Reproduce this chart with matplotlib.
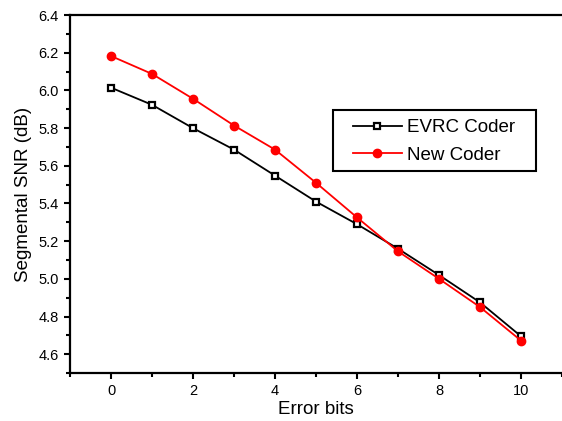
import numpy as np
import matplotlib.pyplot as plt
from matplotlib.ticker import MultipleLocator
from matplotlib.patches import Rectangle

plt.rcParams['font.family'] = ['Liberation Sans', 'DejaVu Sans']

# Data
error_bits = [0, 1, 2, 3, 4, 5, 6, 7, 8, 9, 10]
evrc = [6.015, 5.924, 5.80, 5.686, 5.548, 5.41, 5.29, 5.16, 5.02, 4.875, 4.695]
new_coder = [6.183, 6.088, 5.956, 5.814, 5.686, 5.51, 5.326, 5.146, 5.0, 4.85, 4.672]

fig = plt.figure(figsize=(5.62, 4.21), dpi=100)
ax = fig.add_axes([0.1246, 0.114, 0.8754, 0.85])

ax.plot(error_bits, evrc, color='black', lw=1.3, marker='s', ms=5,
        mfc='white', mec='black', mew=1.6, label='EVRC Coder')
ax.plot(error_bits, new_coder, color='red', lw=1.3, marker='o', ms=6,
        mfc='red', mec='red', label='New Coder')

ax.set_xlim(-1, 11)
ax.set_ylim(4.5, 6.4)
ax.xaxis.set_major_locator(MultipleLocator(2))
ax.xaxis.set_minor_locator(MultipleLocator(1))
ax.yaxis.set_major_locator(MultipleLocator(0.2))
ax.yaxis.set_minor_locator(MultipleLocator(0.1))
ax.yaxis.set_major_formatter(plt.FormatStrFormatter('%.1f'))

ax.tick_params(which='major', direction='out', length=4.5, width=1.5, labelsize=10.5, colors='black')
ax.tick_params(which='minor', direction='out', length=2.8, width=1.5)
ax.tick_params(axis='x', which='both', top=False)
ax.tick_params(axis='y', which='both', right=False)

for side in ['left', 'bottom', 'top']:
    ax.spines[side].set_linewidth(1.6)
ax.spines['right'].set_visible(False)

ax.set_xlabel('Error bits', fontsize=13.5, labelpad=2)
ax.set_ylabel('Segmental SNR (dB)', fontsize=13.5, labelpad=5)

# legend without frame, box drawn separately
leg = ax.legend(loc='upper left', bbox_to_anchor=(353 / 562, 1 - 119 / 421),
                bbox_transform=fig.transFigure, fontsize=13.5, frameon=False,
                borderpad=0, borderaxespad=0, handlelength=2.6,
                handletextpad=0.3, labelspacing=0.55)
fig.patches.append(Rectangle((333 / 562, 1 - 171 / 421), 203 / 562, 61 / 421,
                             transform=fig.transFigure, fill=False,
                             edgecolor='black', lw=1.5))

fig.savefig('out.png', dpi=100)
